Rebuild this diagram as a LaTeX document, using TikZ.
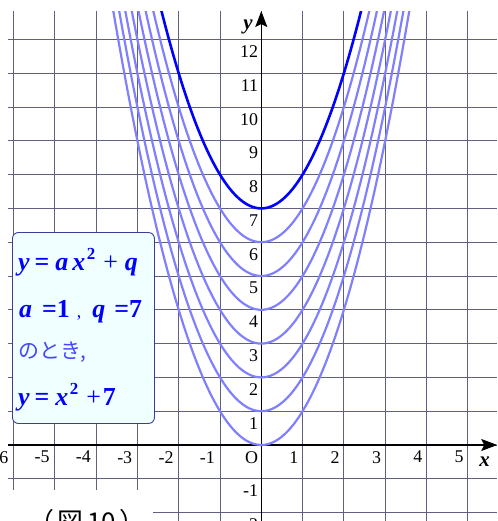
\documentclass[tikz,border=0pt]{standalone}
\usepackage{fontspec}
\setmainfont{Liberation Serif}
\newfontfamily\jpfont{Noto Sans CJK JP}
\usetikzlibrary{arrows.meta}
\usetikzlibrary{positioning}

\definecolor{gridc}{RGB}{95,95,130}
\definecolor{boxfill}{RGB}{240,255,255}
\definecolor{boxline}{RGB}{60,60,150}
\definecolor{lightblue}{RGB}{70,70,255}
\newcommand{\sq}{\hspace{1.5bp}\raisebox{0.4em}{\fontsize{17}{17}\selectfont\upshape 2}}

\begin{document}
\begin{tikzpicture}[x=41.3bp, y=33.8bp,
    gridline/.style={gridc, line width=0.9bp},
    axis/.style={black, line width=1.2bp, -{Stealth[length=16bp, width=12bp, inset=3bp]}},
    curve/.style={blue!50, line width=2.2bp},
    tick/.style={font=\fontsize{18}{18}\selectfont, inner sep=1bp},
    boxtext/.style={blue, font=\fontsize{26}{26}\selectfont\bfseries\itshape, inner sep=0pt, anchor=base west},
    infobox/.style={draw=boxline, fill=boxfill, rounded corners=6bp, line width=0.9bp, inner sep=0pt}]
  \useasboundingbox (-6.327,-2.249) rectangle (5.714,13.166);
  % grid
  \foreach \i in {-6,...,5}
    \draw[gridline] (\i,-2.249) -- (\i,12.84);
  \foreach \j in {-2,...,12}
    \draw[gridline] (-6.13,\j) -- (5.714,\j);
  \fill[white] (-6.327,-2.249) rectangle (-2.62,-1.33);
  \node[font=\jpfont\fontsize{26}{26}\selectfont, anchor=base] (fig) at (-4.22,-2.55)
    {（\hspace{3bp}図\hspace{4bp}10\hspace{3bp}）};
  % axes
  \coordinate (xl) at (-6.13,0);
  \coordinate (xr) at (5.714,0);
  \coordinate (yb) at (0,-2.249);
  \coordinate (yt) at (0,12.84);
  \draw[axis] (xl) -- (xr);
  \draw[axis] (yb) -- (yt);
  \node[font=\fontsize{21}{21}\selectfont\bfseries\itshape] (ylab) at (-0.32,12.37) {y};
  \node[font=\fontsize{21}{21}\selectfont\bfseries\itshape] (xlab) at (5.41,-0.5) {x};
  % ticks
  \foreach \i in {-6,...,-1}
    \node[tick, anchor=north east] at ([xshift=-4bp,yshift=-5bp]\i,0) {\i};
  \foreach \i in {1,...,5}
    \node[tick, anchor=north east] at ([xshift=-3bp,yshift=-5bp]\i,0) {\i};
  \node[tick, anchor=north east] (O) at ([xshift=-2bp,yshift=-5bp]0,0) {O};
  \foreach \j in {-2,-1,1,2,...,12}
    \node[tick, anchor=north east] at ([xshift=-2bp,yshift=-5bp]0,\j) {\j};
  % parabolas
  \begin{scope}
    \clip (-6.327,-2.249) rectangle (5.714,12.84);
    \foreach \q in {0,...,6}
      \draw[curve] plot[domain=-3.6:3.6, samples=121] (\x,{\x*\x+\q});
    \draw[curve, blue, line width=2.6bp] plot[domain=-2.5:2.5, samples=101] (\x,{\x*\x+7});
  \end{scope}
  % box
  \node[infobox, minimum width=142bp, minimum height=191bp, anchor=north west] (box) at (-6.036,6.30) {};
  \node[boxtext] (l1) at ([xshift=6bp,yshift=-38bp]box.north west)
    {y\hspace{5bp}{\upshape=}\hspace{6bp}a\hspace{4bp}x\sq\hspace{8bp}{\mdseries\upshape +}\hspace{7bp}q};
  \node[boxtext] (l2) at ([xshift=7bp,yshift=-85bp]box.north west)
    {a\hspace{10bp}{\upshape=1}\hspace{7bp}{\mdseries\upshape\fontsize{18}{18}\selectfont ,}\hspace{11bp}q\hspace{9bp}{\upshape=7}};
  \node[boxtext, lightblue, font=\jpfont\fontsize{21}{21}\selectfont] (l3) at ([xshift=6bp,yshift=-126bp]box.north west)
    {のとき,};
  \node[boxtext] (l4) at ([xshift=6bp,yshift=-173bp]box.north west)
    {y\hspace{5bp}{\upshape=}\hspace{6bp}x\sq\hspace{8bp}{\mdseries\upshape +}\hspace{2bp}{\upshape 7}};
\end{tikzpicture}
\end{document}
